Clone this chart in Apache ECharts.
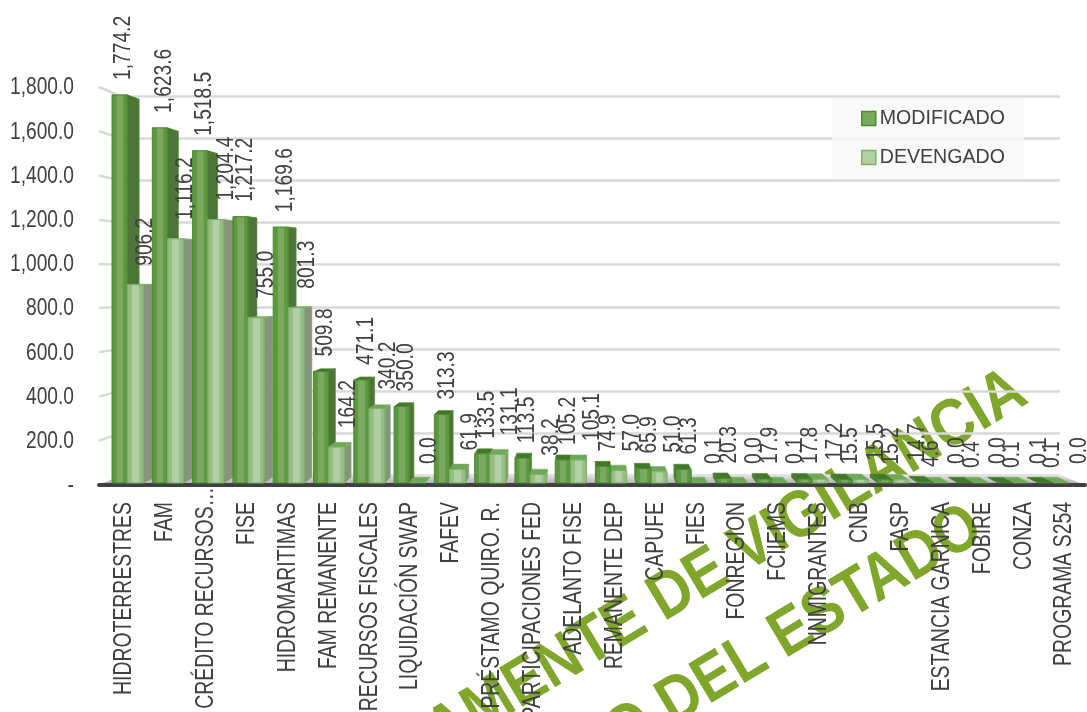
<!DOCTYPE html>
<html><head><meta charset="utf-8">
<style>html,body{margin:0;padding:0;background:#fff}#c{width:1087px;height:712px}</style>
<script src="https://cdn.jsdelivr.net/npm/echarts@6/dist/echarts.min.js"></script>
</head><body><div id="c"></div>
<script>
const categories = ["HIDROTERRESTRES","FAM","CRÉDITO RECURSOS…","FISE","HIDROMARITIMAS","FAM REMANENTE","RECURSOS FISCALES","LIQUIDACIÓN SWAP","FAFEV","PRÉSTAMO QUIRO. R.","PARTICIPACIONES FED","ADELANTO FISE","REMANENTE DEP","CAPUFE","FIES","FONREGION","FCIIEMS","NNMIGRANTES","CNB","FASP","ESTANCIA GARNICA","FOBIRE","CONZA","PROGRAMA S254"];
const modificado = [1774.2,1623.6,1518.5,1217.2,1169.6,509.8,471.1,350.0,313.3,133.5,113.5,105.2,74.9,65.9,61.3,20.3,17.9,17.8,15.5,15.2,4.6,0.4,0.1,0.1];
const devengado = [906.2,1116.2,1204.4,755.0,801.3,164.2,340.2,0.0,61.9,131.1,38.2,105.1,57.0,51.0,0.1,0.0,0.1,17.2,15.5,14.7,0.0,0.0,0.1,0.0];
const yTicks = [0,200,400,600,800,1000,1200,1400,1600,1800];

const FONT = '"Liberation Sans",Arial,sans-serif';
const TXT = '#404040';
const VX = 590, VY = 264, K = 0.026;   // perspective vanishing point of the 3D look
const back = (x, y, k) => [x + (VX - x) * k, y + (VY - y) * k];
const G = echarts.graphic.LinearGradient;
const fmt = v => v.toLocaleString('en-US', {minimumFractionDigits:1, maximumFractionDigits:1});

const palette = [
 {front:[[0,'#4f8a30'],[.12,'#5d9740'],[.3,'#5f9a42'],[.32,'#79aa5f'],[.7,'#79aa5f'],[.72,'#619b45'],[.9,'#5d9740'],[1,'#4f8a30']], side:'#4d7538', top:'#42782a', line:'#4f8a30'},
 {front:[[0,'#7db267'],[.12,'#94bd82'],[.3,'#98c087'],[.32,'#b2d0a5'],[.7,'#b2d0a5'],[.72,'#9bc18b'],[.9,'#94bd82'],[1,'#7db267']], side:'#87947f', top:'#70a85a', line:'#7db267'}
];

function barItem(s, values) {
  return function (params, api) {
    const i = params.dataIndex, v = values[i];
    const p = api.coord([i, v]), b = api.coord([i, 0]);
    const band = api.size([1, 0])[0];
    const x0 = s === 0 ? p[0] - band * .375 : p[0];
    const x1 = s === 0 ? p[0] : p[0] + band * .4;
    const yT = p[1], yB = b[1];
    const pal = palette[s];
    const order = x1 < VX ? i * 2 + s : (categories.length - i) * 2 + (1 - s);
    const children = [];
    const tl = back(x0, yT, K), tr = back(x1, yT, K), bl = back(x0, yB, K), br = back(x1, yB, K);
    const poly = (pts, fill, z) => ({type:'polygon', z2: order * 10 + z, shape:{points:pts}, style:{fill, stroke:pal.line, lineWidth:.6}});
    if (x1 < VX) children.push(poly([[x1,yT],[x1,yB],br,tr], pal.side, 0));
    else children.push(poly([[x0,yT],[x0,yB],bl,tl], pal.side, 0));
    children.push(poly([[x0,yT],[x1,yT],tr,tl], pal.top, 1));
    if (yB - yT > .3) children.push({type:'rect', z2: order * 10 + 2, shape:{x:x0,y:yT,width:x1-x0,height:yB-yT},
      style:{fill:new G(0,0,1,0,pal.front.map(a=>({offset:a[0],color:a[1]}))), stroke:pal.line, lineWidth:1}});
    const lx = (x0 + x1) / 2 + (s === 0 ? 4.5 + .1 * i : 10 + .35 * i);
    children.push({type:'text', z2: 5000, x: lx, y: yT - (s === 0 ? 15 : 19), rotation: Math.PI / 2, scaleX:.835,
      style:{text: fmt(v), fill: TXT, font: '23px ' + FONT, align:'left', verticalAlign:'middle'}});
    return {type:'group', children};
  };
}

function wallItem(params, api) {
  const v = yTicks[params.dataIndex];
  const f = api.coord([0, v]);
  const band = api.size([1, 0])[0];
  const left = f[0] - band / 2 - 2;
  const H = 378.5, B = 475;
  const yb = B - v / 1800 * H;
  const label = {type:'text', x:74, y:f[1]+1, scaleX:.834,
    style:{text: v === 0 ? '-' : fmt(v), fill:TXT, font:'23px '+FONT, align:'right', verticalAlign:'middle'}};
  if (v === 0) {
    const end = api.coord([categories.length - 1, 0])[0] + band / 2 + 3;
    return {type:'group', children:[
      {type:'polygon', shape:{points:[[left,f[1]],[end,f[1]],[1060,yb],[121,yb]]},
       style:{fill:new G(0,0,0,1,[{offset:0,color:'#e4e4e4'},{offset:1,color:'#a8a8a8'}])}},
      {type:'line', z2:4000, shape:{x1:left,y1:f[1],x2:end,y2:f[1]}, style:{stroke:'#404040',lineWidth:4,lineCap:'round'}},
      label
    ]};
  }
  return {type:'group', children:[
    {type:'line', shape:{x1:left,y1:f[1],x2:121,y2:yb}, style:{stroke:'#d9d9d9',lineWidth:2.5}}, label]};
}

function catItem(params, api) {
  const i = params.dataIndex;
  const p = api.coord([i, 0]);
  const truncated = categories[i].endsWith('…');
  return {type:'text', x:p[0]+3, y:p[1]+(truncated ? 2 : 17), rotation:Math.PI/2, scaleX:.776,
    style:{text:categories[i], fill:TXT, font:'25px '+FONT, align:'right', verticalAlign:'middle'}};
}

const option = {
  animation:false,
  backgroundColor:'transparent',
  textStyle:{fontFamily:FONT},
  grid:[
    {left:101,right:5,top:87,height:398,outerBoundsMode:'none'},
    {left:120,width:940,top:96.5,height:378.5,outerBoundsMode:'none'},
    {left:107,right:13,top:89.3,height:393.7,outerBoundsMode:'none'}
  ],
  xAxis:[
    {gridIndex:0,type:'category',data:categories,axisLine:{show:false},axisTick:{show:false},axisLabel:{show:false}},
    {gridIndex:1,type:'category',data:categories,show:false},
    {gridIndex:2,type:'category',data:categories,show:false}
  ],
  yAxis:[
    {gridIndex:0,type:'value',min:0,max:1800,interval:200,splitLine:{show:false},axisLine:{show:false},axisTick:{show:false},axisLabel:{show:false}},
    {gridIndex:1,type:'value',min:0,max:1800,interval:200,axisLine:{show:false},axisTick:{show:false},axisLabel:{show:false},
      splitLine:{lineStyle:{color:'#d9d9d9',width:2.5}}},
    {gridIndex:2,type:'value',min:0,max:1800,interval:200,show:false}
  ],
  legend:{
    left:832,top:98,orient:'vertical',itemWidth:14,itemHeight:14,itemGap:19,
    padding:[10.5,19,10.5,29],backgroundColor:'rgba(247,247,247,0.8)',
    textStyle:{color:TXT,fontSize:19.6,fontFamily:FONT,padding:[0,0,0,-1]},
    data:[
      {name:'MODIFICADO',icon:'rect',itemStyle:{color:'#79aa5f',borderColor:'#4f8a30',borderWidth:1.5}},
      {name:'DEVENGADO',icon:'rect',itemStyle:{color:'#b2d0a5',borderColor:'#7db267',borderWidth:1.5}}
    ]
  },
  graphic:[
    {type:'text',z:-1,silent:true,x:1021,y:386,scaleX:.87,rotation:31*Math.PI/180,
     style:{text:'EXCLUSIVAMENTE DE VIGILANCIA',font:'bold 66px "Liberation Sans",Arial,sans-serif',fill:'#80a62c',align:'right',verticalAlign:'middle'}},
    {type:'text',z:-1,silent:true,x:977,y:522,scaleX:.87,rotation:31*Math.PI/180,
     style:{text:'CONGRESO DEL ESTADO',font:'bold 66px "Liberation Sans",Arial,sans-serif',fill:'#80a62c',align:'right',verticalAlign:'middle'}}
  ],
  series:[
    {type:'custom',name:'wall',xAxisIndex:0,yAxisIndex:0,z:1,silent:true,clip:false,renderItem:wallItem,data:yTicks.map(v=>[0,v]),encode:{x:0,y:1}},
    {type:'custom',name:'MODIFICADO',xAxisIndex:2,yAxisIndex:2,z:3,clip:false,renderItem:barItem(0,modificado),data:modificado.map((v,i)=>[i,v]),encode:{x:0,y:1},itemStyle:{color:'#79aa5f'}},
    {type:'custom',name:'DEVENGADO',xAxisIndex:2,yAxisIndex:2,z:3,clip:false,renderItem:barItem(1,devengado),data:devengado.map((v,i)=>[i,v]),encode:{x:0,y:1},itemStyle:{color:'#b2d0a5'}},
    {type:'custom',name:'categoryLabels',xAxisIndex:0,yAxisIndex:0,z:4,silent:true,clip:false,renderItem:catItem,data:categories.map((c,i)=>[i,0]),encode:{x:0,y:1}}
  ]
};
const chart = echarts.init(document.getElementById('c'),null,{renderer:'canvas'});
chart.setOption(option);
</script></body></html>
